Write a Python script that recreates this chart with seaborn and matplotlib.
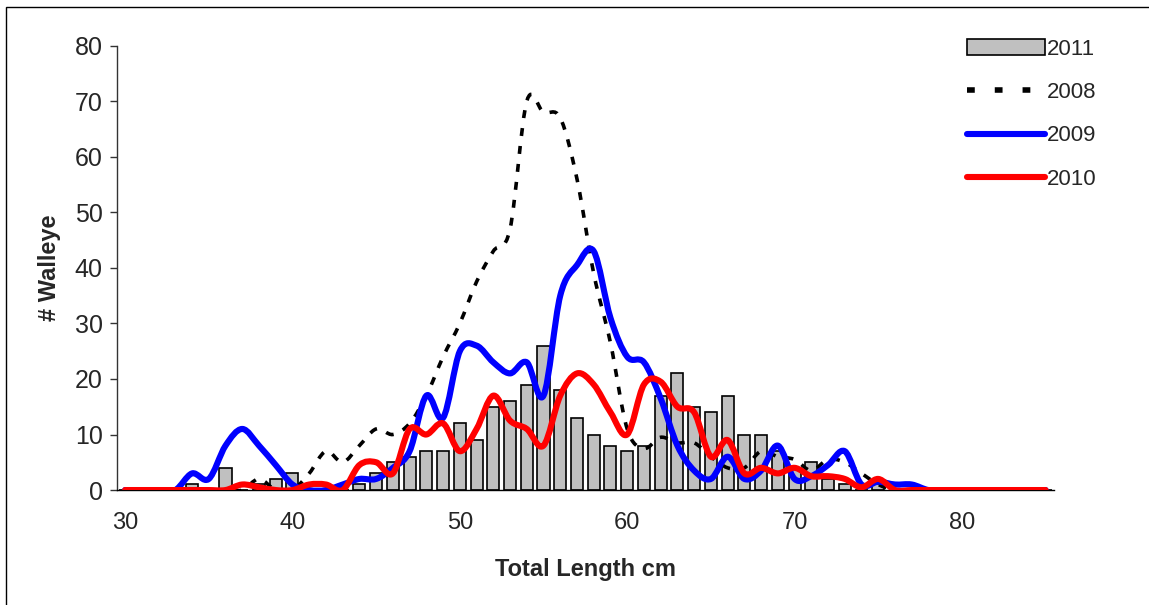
import matplotlib
matplotlib.use('Agg')
import matplotlib.pyplot as plt
from matplotlib.path import Path
from matplotlib.patches import PathPatch, Rectangle
from matplotlib.lines import Line2D
from matplotlib.ticker import MultipleLocator, FixedLocator
import seaborn as sns
import pandas as pd
import numpy as np

# total length categories (cm)
lengths = list(range(30, 86))

# 2011 catch (bars)
n2011 = [0, 0, 0, 0, 1, 0, 4, 0, 1, 2, 3, 0, 0, 0, 1, 3, 5, 6, 7, 7,
         12, 9, 15, 16, 19, 26, 18, 13, 10, 8, 7, 8, 17, 21, 15, 14, 17, 10, 10, 7,
         4, 5, 2, 1, 0, 1, 0, 0, 0, 0, 0, 0, 0, 0, 0, 0]

# earlier years (smoothed lines)
n2008 = [0, 0, 0, 0, 0, 0, 0, 0, 2, 0, 0, 3, 7, 5, 8, 11, 10, 12, 17, 24,
         30, 37.5, 43, 47, 70, 68, 67, 56, 39, 26.5, 11, 7.5, 9.5, 8.5, 8.5, 6, 4, 4, 7, 6,
         5.5, 3.5, 5.5, 5, 3, 1, 0, 0, 0, 0, 0, 0, 0, 0, 0, 0]
n2009 = [0, 0, 0, 0, 3, 2, 8, 11, 8, 4.5, 1, 0, 0, 1, 2, 2, 4, 7, 17, 13,
         25, 26, 23, 21, 23, 17, 35, 40.5, 43, 31, 24, 23, 16.5, 8, 3.5, 2, 6, 2, 3.5, 8,
         2, 2.5, 4.5, 7, 1, 1.5, 1, 1, 0, 0, 0, 0, 0, 0, 0, 0]
n2010 = [0, 0, 0, 0, 0, 0, 0, 1, 0.5, 0, 0, 1, 1, 0, 4.5, 5, 3, 11, 10, 12,
         7, 11, 17, 12.5, 11, 8, 17, 21, 19, 14, 10, 19, 19.5, 15, 14, 6, 9, 3, 4, 3,
         4, 2.5, 2.5, 2, 0.5, 2, 0, 0, 0, 0, 0, 0, 0, 0, 0, 0]

df = pd.DataFrame({'length': lengths, 'count': n2011})


def smooth_path(x, y):
    # Excel-style smoothed line: Catmull-Rom through every point, as bezier segments
    pts = np.column_stack([x, y]).astype(float)
    verts = [pts[0]]
    codes = [Path.MOVETO]
    n = len(pts)
    for i in range(n - 1):
        p0 = pts[i - 1] if i > 0 else pts[i]
        p1 = pts[i]
        p2 = pts[i + 1]
        p3 = pts[i + 2] if i + 2 < n else pts[i + 1]
        c1 = p1 + (p2 - p0) / 6.0
        c2 = p2 - (p3 - p1) / 6.0
        verts += [c1, c2, p2]
        codes += [Path.CURVE4] * 3
    return Path(verts, codes)


sns.set_style('white')
plt.rcParams['font.family'] = ['Liberation Sans', 'DejaVu Sans']

fig = plt.figure(figsize=(11.49, 6.05), dpi=100)
ax = fig.add_axes([0.1016, 0.190, 0.8157, 0.7345])

sns.barplot(data=df, x='length', y='count', native_scale=True, width=0.72,
            color='#C0C0C0', edgecolor='black', linewidth=1.2, saturation=1,
            ax=ax, zorder=1)

styles = [
    (n2008, dict(edgecolor='black', linewidth=2.6, linestyle=(0, (2.2, 2.8)), capstyle='butt')),
    (n2009, dict(edgecolor='#0000FF', linewidth=4.4, capstyle='round', joinstyle='round')),
    (n2010, dict(edgecolor='#FF0000', linewidth=4.4, capstyle='round', joinstyle='round')),
]
for vals, kw in styles:
    ax.add_patch(PathPatch(smooth_path(lengths, vals), facecolor='none', zorder=3, **kw))

ax.set_xlim(29.5, 85.5)
ax.set_ylim(0, 80)
ax.xaxis.set_major_locator(FixedLocator([30, 40, 50, 60, 70, 80]))
ax.xaxis.set_minor_locator(FixedLocator(np.arange(29.5, 86, 1)))
ax.yaxis.set_major_locator(MultipleLocator(10))
ax.tick_params(axis='x', which='major', length=0, pad=16, labelsize=17)
ax.tick_params(axis='x', which='minor', length=5, width=1, color='#333333', direction='out')
ax.tick_params(axis='y', which='major', length=5, width=1, color='#333333',
               direction='out', pad=5, labelsize=18, left=True)
ax.set_xticklabels(['30', '40', '50', '60', '70', '80'])

for s in ['top', 'right']:
    ax.spines[s].set_visible(False)
ax.spines['left'].set_color('#333333')
ax.spines['bottom'].set_color('black')
ax.spines['left'].set_linewidth(1)
ax.spines['bottom'].set_linewidth(1)

ax.set_xlabel('Total Length cm', fontsize=17, fontweight='bold', labelpad=17)
ax.set_ylabel('# Walleye', fontsize=17, fontweight='bold', labelpad=10)

handles = [
    Rectangle((0, 0), 1, 1, facecolor='#C0C0C0', edgecolor='black', linewidth=1.2),
    Line2D([], [], color='black', linewidth=4, linestyle=(0, (1.4, 3.6))),
    Line2D([], [], color='#0000FF', linewidth=4.4, solid_capstyle='round'),
    Line2D([], [], color='#FF0000', linewidth=4.4, solid_capstyle='round'),
]
ax.legend(handles, ['2011', '2008', '2009', '2010'], loc='upper left',
          bbox_to_anchor=(967 / 1149, 1 - 39 / 605), bbox_transform=fig.transFigure,
          frameon=False, fontsize=16, handlelength=3.5, handletextpad=0.1,
          labelspacing=1.0, borderpad=0, borderaxespad=0)

# outer chart border
fig.add_artist(Rectangle((6 / 1149, -0.1), 1.2, 1 - 7 / 605 + 0.1,
                         transform=fig.transFigure, fill=False,
                         edgecolor='black', linewidth=1))

fig.savefig('out.png', dpi=100)
